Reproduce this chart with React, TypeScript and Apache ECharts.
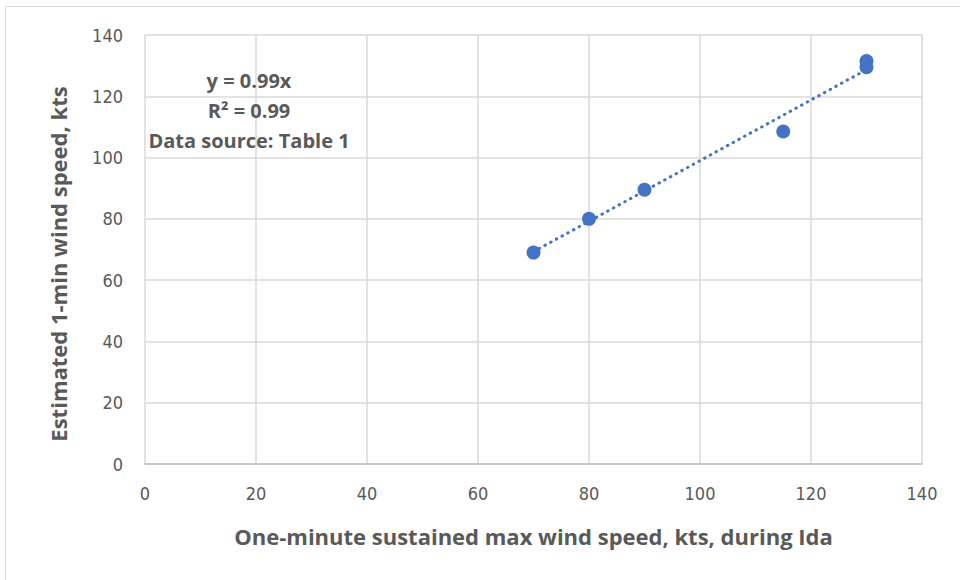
import React, { useEffect, useRef } from "react";
import * as echarts from "echarts";

const xValues = [70, 80, 90, 115, 130, 130];
const yValues = [69, 80, 89.5, 108.5, 131.5, 129.5];
const trendSlope = 0.99;
const trendXRange = [70, 130];
const annotationLines = ["y = 0.99x", "R² = 0.99", "Data source: Table 1"];
const xAxisTitle = "One-minute sustained max wind speed, kts, during Ida";
const yAxisTitle = "Estimated 1-min wind speed, kts";

const TEXT = "#595959";
const BLUE = "#4472C4";
const TICK_FONT = "'Liberation Sans Narrow', 'DejaVu Sans Condensed', 'Open Sans', sans-serif";
const BOLD_FONT = "'Open Sans', 'Noto Sans', sans-serif";

export default function App() {
  const ref = useRef<HTMLDivElement>(null);
  useEffect(() => {
    if (!ref.current) return;
    const chart = echarts.init(ref.current, null, { renderer: "svg" });
    const points = xValues.map((x, i) => [x, yValues[i]]);
    const trend = trendXRange.map((x) => [x, trendSlope * x]);
    chart.setOption({
      animation: false,
      backgroundColor: "#ffffff",
      grid: { left: 145, right: 38, top: 35, bottom: 116 },
      xAxis: {
        type: "value",
        min: 0,
        max: 140,
        interval: 20,
        name: xAxisTitle,
        nameLocation: "middle",
        nameGap: 61,
        nameTextStyle: { color: TEXT, fontSize: 22, fontWeight: "bold", fontFamily: BOLD_FONT, letterSpacing: 0.5 },
        axisLine: { show: true, lineStyle: { color: "#bfbfbf", width: 1.5 } },
        axisTick: { show: false },
        axisLabel: { color: TEXT, fontSize: 18, fontFamily: TICK_FONT, margin: 20 },
        splitLine: { show: true, lineStyle: { color: "#d9d9d9", width: 1.5 } },
      },
      yAxis: {
        type: "value",
        min: 0,
        max: 140,
        interval: 20,
        axisLine: { show: false },
        axisTick: { show: false },
        axisLabel: { color: TEXT, fontSize: 18, fontFamily: TICK_FONT, margin: 22 },
        splitLine: { show: true, lineStyle: { color: "#d9d9d9", width: 1.5 } },
      },
      graphic: [
        {
          type: "rect",
          shape: { x: 5.5, y: 6.5, width: 1000, height: 1000 },
          style: { fill: "none", stroke: "#d9d9d9", lineWidth: 1 },
          silent: true,
          z: -10,
        },
        {
          type: "text",
          x: 58,
          y: 264,
          rotation: Math.PI / 2,
          style: {
            text: yAxisTitle,
            fill: TEXT,
            fontSize: 22,
            fontWeight: "bold",
            fontFamily: BOLD_FONT,
            textAlign: "center",
            textVerticalAlign: "middle",
          },
        },
        ...annotationLines.map((t, i) => ({
          type: "text",
          x: 249,
          y: 80 + i * 30,
          style: {
            text: t,
            fill: TEXT,
            fontSize: 20,
            fontWeight: "bold",
            fontFamily: BOLD_FONT,
            textAlign: "center",
            textVerticalAlign: "middle",
          },
          z: 10,
        })),
      ],
      series: [
        {
          type: "line",
          data: trend,
          symbol: "none",
          lineStyle: { color: BLUE, width: 3, type: [0.5, 6], cap: "round" },
          z: 2,
        },
        {
          type: "scatter",
          data: points,
          symbol: "circle",
          symbolSize: 14,
          itemStyle: { color: BLUE, opacity: 1 },
          z: 3,
        },
      ],
    });
    return () => chart.dispose();
  }, []);
  return (
    <div
      ref={ref}
      style={{ position: "absolute", left: 0, top: 0, width: 960, height: 580 }}
    />
  );
}
